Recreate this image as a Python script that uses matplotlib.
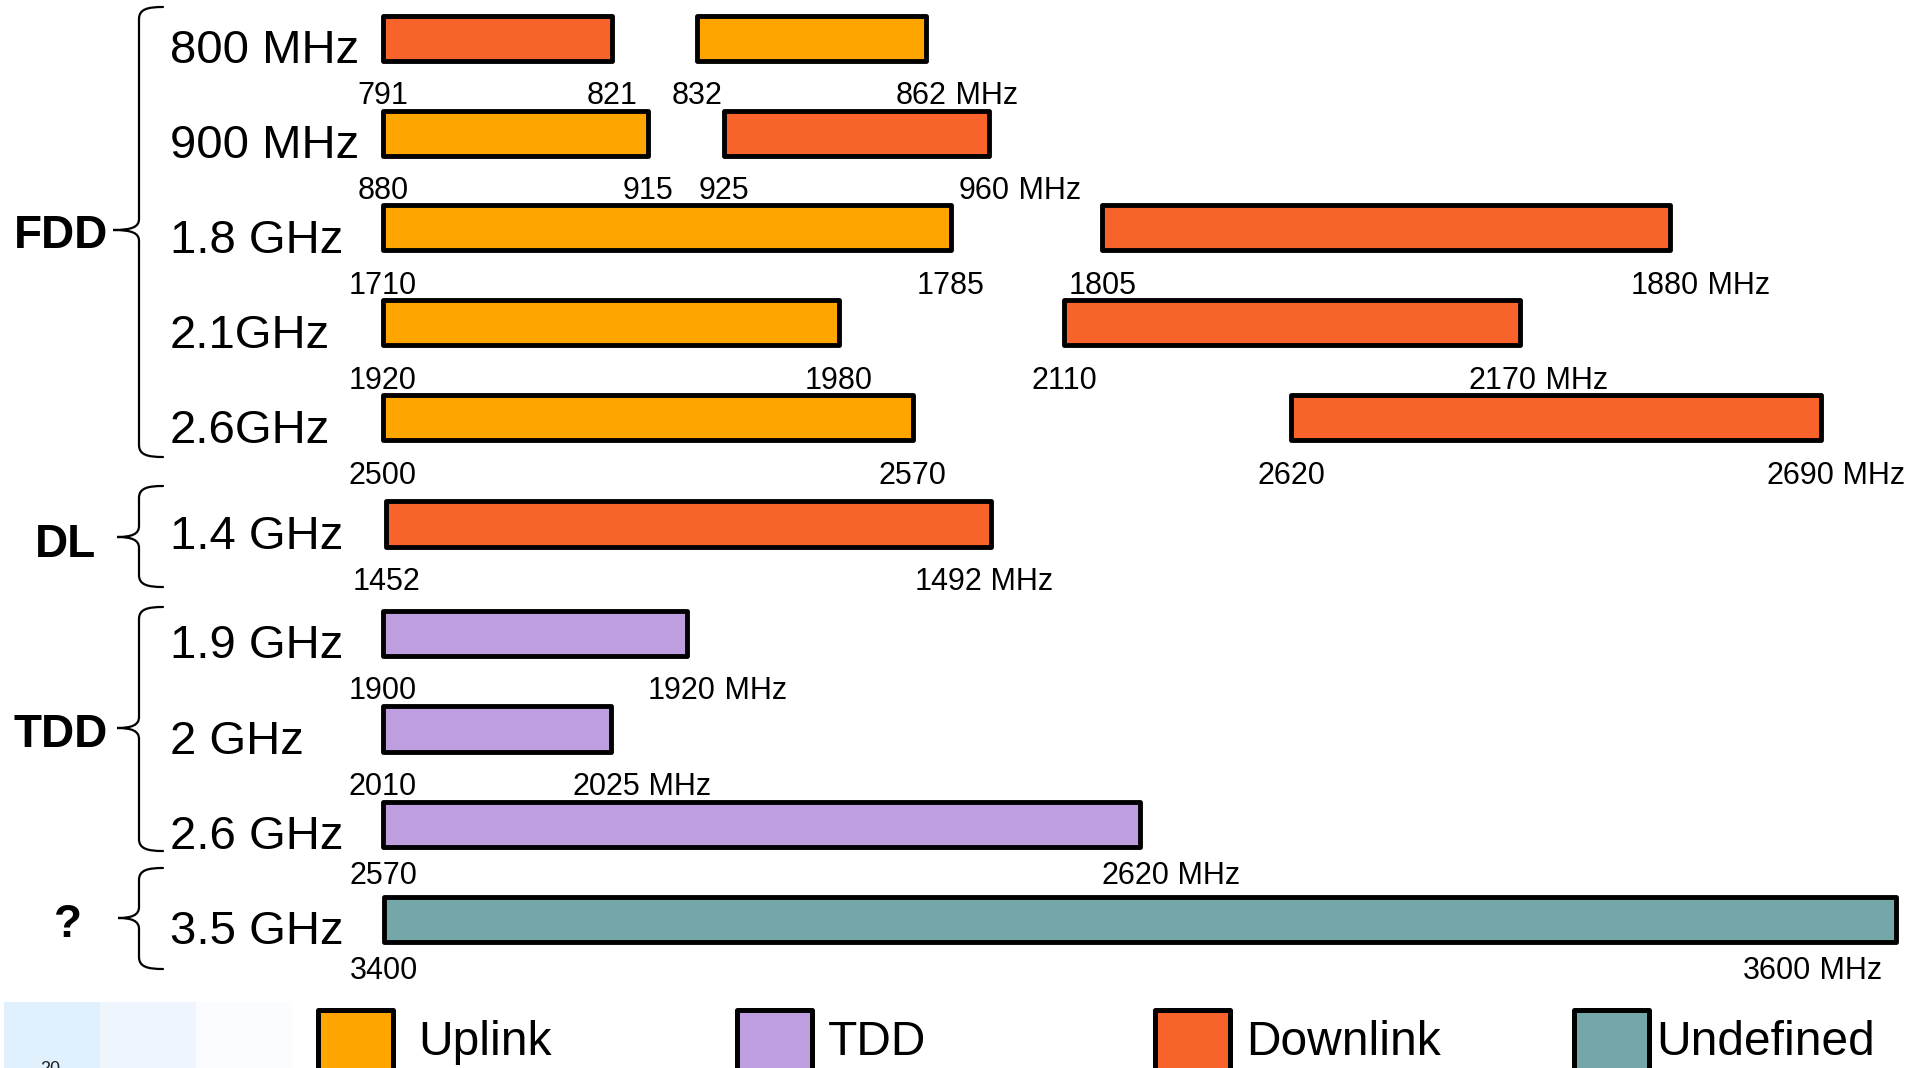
"""
Mobile frequency bands: FDD / supplemental downlink / TDD / undefined.
Each row gets its own axis (in MHz) so the band edges sit on real scales.
"""
import matplotlib
matplotlib.use("Agg")
import matplotlib.pyplot as plt
from matplotlib.patches import Rectangle, PathPatch
from matplotlib.path import Path

plt.rcParams["font.family"] = ["Liberation Sans", "DejaVu Sans"]

W, H = 1933, 1068
DPI = 100
PT = 72 / DPI  # points per pixel

# band edges in MHz
row_names = ["800 MHz", "900 MHz", "1.8 GHz", "2.1GHz", "2.6GHz",
             "1.4 GHz", "1.9 GHz", "2 GHz", "2.6 GHz", "3.5 GHz"]
uplink_lo = [832, 880, 1710, 1920, 2500]
uplink_hi = [862, 915, 1785, 1980, 2570]
downlink_lo = [791, 925, 1805, 2110, 2620]
downlink_hi = [821, 960, 1880, 2170, 2690]
sdl_lo = [1452]
sdl_hi = [1492]
tdd_lo = [1900, 2010, 2570]
tdd_hi = [1920, 2025, 2620]
undef_lo = [3400]
undef_hi = [3600]

groups = ["FDD", "DL", "TDD", "?"]
legend_labels = ["Uplink", "TDD", "Downlink", "Undefined"]

COLORS = {
    "Uplink": "#FFA500",
    "TDD": "#BF9EE0",
    "Downlink": "#F7632A",
    "Undefined": "#75A6A8",
}

# layout (pixels, y measured from the top)
row_y = [38.3, 133.3, 227.7, 322.6, 417.6, 524.2, 633.3, 728.8, 824.3, 919.3]
row_x0 = [383, 383, 383, 383, 383, 386, 383, 383, 383, 384]
row_px_per_mhz = [7.65, 7.58, 7.57, 7.60, 7.57, 15.13, 15.2, 15.2, 15.14, 7.56]
row_breaks = {3: 1064}        # 2.1 GHz: downlink drawn on a broken axis
label_gap = [41, 41, 41, 41, 41, 41, 41, 41, 35, 35]
label_shift = {(3, 2170): -12, (4, 2690): -16, (5, 1492): -38, (9, 3600): -114}
MHZ_SHIFT = -5
BAR_H = 45.5
BAR_LW = 3.5
FS_ROW = 34
FS_EDGE = 22

brace_top = [7, 486, 607, 868]
brace_bot = [457, 587, 851, 969]
brace_mid = [230, 537, 728, 918]
brace_tip = [113, 117, 117, 118]
group_x = [61.5, 66, 61, 68]
group_base = [248, 557, 747, 937]

legend_x = [318.5, 737.5, 1155, 1574.5]
legend_text_x = [418, 828, 1246, 1656]


def build_rows():
    rows = []
    for lo_u, hi_u, lo_d, hi_d in zip(uplink_lo, uplink_hi, downlink_lo, downlink_hi):
        pair = [(lo_u, hi_u, "Uplink"), (lo_d, hi_d, "Downlink")]
        rows.append(sorted(pair))
    for lo, hi in zip(sdl_lo, sdl_hi):
        rows.append([(lo, hi, "Downlink")])
    for lo, hi in zip(tdd_lo, tdd_hi):
        rows.append([(lo, hi, "TDD")])
    for lo, hi in zip(undef_lo, undef_hi):
        rows.append([(lo, hi, "Undefined")])
    return rows


def draw_brace(ax, top, bot, mid, tip, xv=139, xe=163):
    verts = [
        (xe, top), (148, top), (xv, top + 2), (xv, top + 12),
        (xv, mid - 11),
        (xv, mid - 3), (xv - 7, mid), (tip, mid),
        (xv - 7, mid), (xv, mid + 3), (xv, mid + 11),
        (xv, bot - 12),
        (xv, bot - 2), (148, bot), (xe, bot),
    ]
    codes = ([Path.MOVETO] + [Path.CURVE4] * 3 + [Path.LINETO]
             + [Path.CURVE4] * 6 + [Path.LINETO] + [Path.CURVE4] * 3)
    ax.add_patch(PathPatch(Path(verts, codes), fill=False, lw=1.6,
                           edgecolor="black", capstyle="round"))


def draw_edge_label(ax, freq, y_off, last, shift_px):
    if last:
        shift_px += MHZ_SHIFT
    num = ax.annotate(str(freq), xy=(freq, 0), xytext=(shift_px * PT, y_off),
                      textcoords="offset points", ha="center", va="baseline",
                      fontsize=FS_EDGE, annotation_clip=False)
    if last:
        ax.annotate(" MHz", xy=(1, 0), xycoords=num, ha="left", va="bottom",
                    fontsize=FS_EDGE, annotation_clip=False)


def draw_row(fig, i, bands):
    if i in row_breaks:
        segments = [(row_x0[i], bands[:1]), (row_breaks[i], bands[1:])]
    else:
        segments = [(row_x0[i], bands)]
    y_off = -(BAR_H / 2 + BAR_LW / PT / 2 + label_gap[i]) * PT
    edges = [f for lo, hi, _ in bands for f in (lo, hi)]
    for x_px, seg in segments:
        f0 = seg[0][0]
        ax = fig.add_axes([x_px / W, 1 - (row_y[i] + BAR_H / 2) / H,
                           (W - x_px) / W, BAR_H / H])
        ax.set_xlim(f0, f0 + (W - x_px) / row_px_per_mhz[i])
        ax.set_ylim(-0.5, 0.5)
        ax.axis("off")
        for lo, hi, kind in seg:
            bars = ax.barh(0, hi - lo, left=lo, height=1, color=COLORS[kind],
                           edgecolor="black", linewidth=BAR_LW, clip_on=False)
            for p in bars:
                p.set_joinstyle("round")
            for f in (lo, hi):
                draw_edge_label(ax, f, y_off, f == edges[-1],
                                label_shift.get((i, f), 0))


def main():
    fig = plt.figure(figsize=(W / DPI, H / DPI), dpi=DPI, facecolor="white")
    lay = fig.add_axes([0, 0, 1, 1])
    lay.set_xlim(0, W)
    lay.set_ylim(H, 0)
    lay.axis("off")

    # faint slide-footer tiles in the corner
    for x, c in zip([4, 100, 196], ["#E0F0FD", "#EEF5FD", "#FAFCFF"]):
        lay.add_patch(Rectangle((x, 1002), 96, 80, facecolor=c, edgecolor="none"))
    lay.text(50, 1061, "20", ha="center", va="top", fontsize=13, color="#222222")

    rows = build_rows()
    for i, name in enumerate(row_names):
        lay.text(170, row_y[i] + 25, name, ha="left", va="baseline", fontsize=FS_ROW)
        draw_row(fig, i, rows[i])

    for g, name in enumerate(groups):
        lay.text(group_x[g], group_base[g], name, ha="center", va="baseline",
                 fontsize=33, fontweight="bold")
        draw_brace(lay, brace_top[g], brace_bot[g], brace_mid[g], brace_tip[g])

    for x, tx, name in zip(legend_x, legend_text_x, legend_labels):
        sq = Rectangle((x, 1009.5), 75, 80, facecolor=COLORS[name],
                       edgecolor="black", linewidth=3.6)
        sq.set_joinstyle("round")
        lay.add_patch(sq)
        lay.text(tx, 1055, name, ha="left", va="baseline", fontsize=34.5)

    fig.savefig("out.png", dpi=DPI, facecolor="white")
    plt.close(fig)


if __name__ == "__main__":
    main()
